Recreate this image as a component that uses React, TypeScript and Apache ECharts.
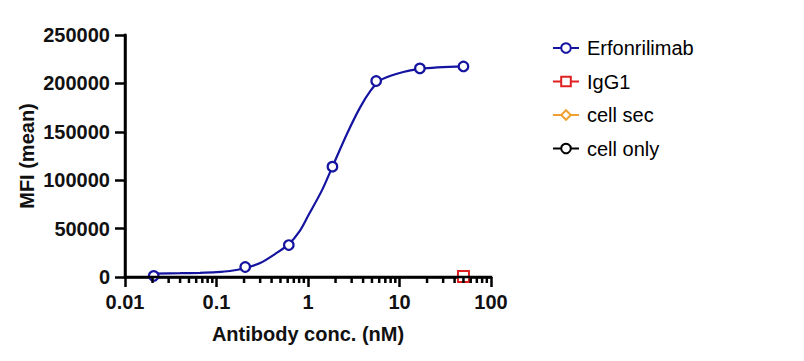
import React, { useEffect, useRef } from "react";
import * as echarts from "echarts";

// Concentrations (nM) and measured MFI for Erfonrilimab
const concentrations = [0.0206, 0.206, 0.617, 1.85, 5.56, 16.7, 50];
const erfMean = [1200, 10300, 33000, 114000, 202500, 215500, 217500];
const erfErr = [700, 1000, 1500, 2500, 4000, 2000, 1500];

// Fitted curve
const curveX = [0.0206, 0.04, 0.066, 0.1, 0.14, 0.205, 0.3, 0.435, 0.617, 0.818, 1.0, 1.42, 1.85, 2.67, 3.7, 4.79, 6.1, 9.39, 16.7, 50];
const curveY = [3500, 3900, 4300, 5000, 6200, 9300, 14400, 23700, 34000, 48000, 63000, 89500, 114000, 148000, 175000, 192000, 203000, 210000, 215000, 217500];

// Controls (single concentration)
const ctrlX = [50];
const igg1 = [400];
const cellSec = [300];
const cellOnly = [200];

const legendNames = ["Erfonrilimab", "IgG1", "cell sec", "cell only"];
const xTickLabels = ["0.01", "0.1", "1", "10", "100"];
const yTicks = [0, 50000, 100000, 150000, 200000, 250000];
const xRange = [0.01, 100];
const yRange = [0, 250000];

const minorTicks: number[] = [];
[0.01, 0.1, 1, 10].forEach((d) => {
  for (let m = 2; m <= 9; m++) minorTicks.push(+(d * m).toPrecision(3));
});

const FONT = "Liberation Sans, Arial, sans-serif";
const BLUE = "#1414a0";

export default function App() {
  const ref = useRef<HTMLDivElement>(null);
  useEffect(() => {
    if (!ref.current) return;
    const chart = echarts.init(ref.current, null, { renderer: "svg" });
    chart.setOption({
      animation: false,
      backgroundColor: "#fff",
      grid: { left: 125, right: 313, top: 35, bottom: 84, containLabel: false },
      legend: {
        orient: "vertical",
        left: 547,
        top: 33,
        itemWidth: 26,
        itemHeight: 12,
        itemGap: 13.5,
        textStyle: { fontFamily: FONT, fontSize: 20, color: "#000", lineHeight: 20, padding: [0, 0, 0, 3] },
        data: legendNames,
      },
      xAxis: {
        type: "log",
        logBase: 10,
        min: xRange[0],
        max: xRange[1],
        name: "Antibody conc. (nM)",
        nameLocation: "middle",
        nameGap: 47,
        nameTextStyle: { fontFamily: FONT, fontSize: 20, fontWeight: "bold", color: "#111" },
        axisLine: { show: true, lineStyle: { color: "#000", width: 2.5 } },
        axisTick: { show: true, length: 10, lineStyle: { color: "#000", width: 2.5 } },
        axisLabel: {
          fontFamily: FONT,
          fontSize: 20,
          fontWeight: "bold",
          color: "#111",
          margin: 15,
          formatter: (_v: number, i: number) => xTickLabels[i] ?? "",
        },
        splitLine: { show: false },
        minorTick: { show: false },
      },
      yAxis: {
        type: "value",
        min: yRange[0],
        max: yRange[1],
        interval: 50000,
        name: "MFI (mean)",
        nameLocation: "middle",
        nameGap: 88,
        nameTextStyle: { fontFamily: FONT, fontSize: 20, fontWeight: "bold", color: "#111" },
        axisLine: { show: true, lineStyle: { color: "#000", width: 2.5 } },
        axisTick: { show: true, length: 10, lineStyle: { color: "#000", width: 2.5 } },
        axisLabel: {
          fontFamily: FONT,
          fontSize: 20,
          fontWeight: "bold",
          color: "#111",
          margin: 15,
          formatter: (v: number) => (yTicks.includes(v) ? String(v) : ""),
        },
        splitLine: { show: false },
      },
      series: [
        {
          name: "Erfonrilimab",
          type: "line",
          data: curveX.map((x, i) => [x, curveY[i]]),
          smooth: 0.3,
          showSymbol: false,
          symbol: "emptyCircle",
          symbolSize: 8,
          lineStyle: { color: BLUE, width: 2.2 },
          itemStyle: { color: BLUE, borderColor: BLUE, borderWidth: 2 },
          z: 2,
        },
        {
          name: "Erfonrilimab",
          type: "custom",
          data: concentrations.map((x, i) => [x, erfMean[i], erfErr[i]]),
          renderItem: (_p: any, api: any) => {
            const x = api.value(0), y = api.value(1), e = api.value(2);
            const top = api.coord([x, y + e]);
            const bot = api.coord([x, y - e]);
            const style = { stroke: BLUE, lineWidth: 1.5 };
            return {
              type: "group",
              children: [
                { type: "line", shape: { x1: top[0], y1: top[1], x2: bot[0], y2: bot[1] }, style },
                { type: "line", shape: { x1: top[0] - 3, y1: top[1], x2: top[0] + 3, y2: top[1] }, style },
                { type: "line", shape: { x1: bot[0] - 3, y1: bot[1], x2: bot[0] + 3, y2: bot[1] }, style },
              ],
            };
          },
          z: 3,
        },
        {
          name: "Erfonrilimab",
          type: "scatter",
          data: concentrations.map((x, i) => [x, erfMean[i]]),
          symbol: "circle",
          symbolSize: 9.5,
          itemStyle: { color: "#fff", borderColor: BLUE, borderWidth: 2.2, opacity: 1 },
          z: 4,
        },
        {
          name: "cell only",
          type: "line",
          data: ctrlX.map((x, i) => [x, cellOnly[i]]),
          symbol: "emptyCircle",
          symbolSize: 7,
          lineStyle: { color: "#000", width: 1.5 },
          itemStyle: { color: "#000", borderWidth: 2 },
          z: 5,
        },
        {
          name: "cell sec",
          type: "line",
          data: ctrlX.map((x, i) => [x, cellSec[i]]),
          symbol: "emptyDiamond",
          symbolSize: 10,
          lineStyle: { color: "#f0a030", width: 1.5 },
          itemStyle: { color: "#f0a030", borderWidth: 2 },
          z: 6,
        },
        {
          name: "IgG1",
          type: "line",
          data: ctrlX.map((x, i) => [x, igg1[i]]),
          symbol: "emptyRect",
          symbolSize: 11,
          lineStyle: { color: "#e02020", width: 1.5 },
          itemStyle: { color: "#e02020", borderWidth: 2.5 },
          z: 7,
        },
      ],
    });

    // Axis lines and log minor ticks, positioned through the chart's own scales
    const px = (x: number, y: number) => chart.convertToPixel({ gridIndex: 0 }, [x, y]) as number[];
    const o = px(xRange[0], yRange[0]);
    const xe = px(xRange[1], yRange[0]);
    const ye = px(xRange[0], yRange[1]);
    const axisStyle = { stroke: "#000", lineWidth: 2.5 };
    const graphics: any[] = [
      { type: "rect", shape: { x: o[0] - 1.25, y: o[1] - 1.25, width: xe[0] - o[0] + 2.5, height: 2.5 }, style: { fill: "#000" }, z: 100 },
      { type: "rect", shape: { x: o[0] - 1.25, y: ye[1] - 1.25, width: 2.5, height: o[1] - ye[1] + 2.5 }, style: { fill: "#000" }, z: 100 },
    ];
    minorTicks.forEach((v) => {
      const p = px(v, yRange[0]);
      graphics.push({ type: "line", shape: { x1: p[0], y1: p[1], x2: p[0], y2: p[1] + 6 }, style: axisStyle, z: 100 });
    });
    chart.setOption({ graphic: graphics });

    return () => chart.dispose();
  }, []);
  return <div ref={ref} style={{ width: 804, height: 361, margin: -8 }} />;
}
